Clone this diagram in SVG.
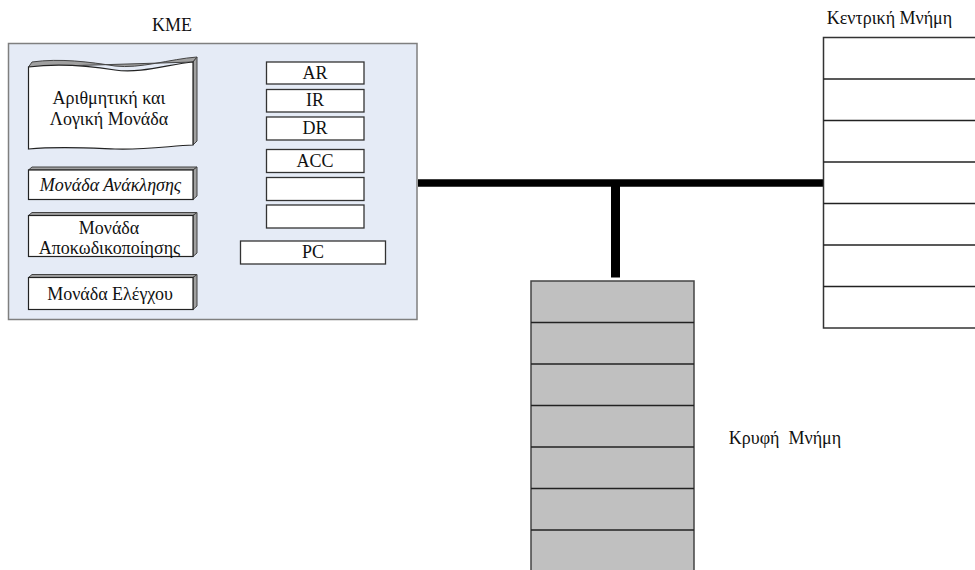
<svg xmlns="http://www.w3.org/2000/svg" width="975" height="570" viewBox="0 0 975 570">
<style>
text{font-family:'Liberation Serif','Times New Roman',serif;font-size:18px;fill:#111;text-anchor:middle}
.it{font-style:italic}
.face{fill:#fff;stroke:#222;stroke-width:1.2}
.side{fill:#a0a0a0;stroke:#444;stroke-width:1}
.reg{fill:#fff;stroke:#333;stroke-width:1.3}
.row{stroke:#222;stroke-width:1.5}
.bus{stroke:#000;fill:none}
</style>
<rect width="975" height="570" fill="#fff"/>
<g id="kme">
<rect x="8.5" y="43.5" width="408.5" height="276" fill="#e5ebf6" stroke="#7f7f7f" stroke-width="1.5"/>
<text x="172" y="31">KME</text>
</g>
<g id="alu">
<path class="side" d="M28.5,67 L32,62 C60,58 90,62 115,66 C140,69 170,59 197,57 L193,62 Z"/>
<path class="side" d="M193,62 L197,57 L197,141 L193,145 Z"/>
<path class="face" d="M28.5,67 C60,63 90,66 115,70 C140,74 170,64 193,62 L193,145 C170,146 145,150 115,149 C90,148 60,146 28.5,149 Z"/>
<text x="109" y="104">Αριθμητική και</text>
<text x="109" y="125">Λογική Μονάδα</text>
</g>
<g id="fetch">
<path class="side" d="M28.5,170 L32,167 L197,167 L193,170 Z"/>
<path class="side" d="M193,170 L197,167 L197,196 L193,199.5 Z"/>
<rect class="face" x="28.5" y="170" width="164.5" height="29.5"/>
<text class="it" x="110.5" y="191">Μονάδα Ανάκλησης</text>
</g>
<g id="decode">
<path class="side" d="M28.5,215.5 L32,212.5 L197,212.5 L193,215.5 Z"/>
<path class="side" d="M193,215.5 L197,212.5 L197,253 L193,256.5 Z"/>
<rect class="face" x="28.5" y="215.5" width="164.5" height="41"/>
<text x="109" y="234">Μονάδα</text>
<text x="109.5" y="254">Αποκωδικοποίησης</text>
</g>
<g id="control">
<path class="side" d="M28.5,277.5 L32,274.5 L197,274.5 L193,277.5 Z"/>
<path class="side" d="M193,277.5 L197,274.5 L197,306 L193,309.5 Z"/>
<rect class="face" x="28.5" y="277.5" width="164.5" height="32"/>
<text x="110" y="300">Μονάδα Ελέγχου</text>
</g>
<g id="reg-ar"><rect class="reg" x="266.5" y="62" width="97.5" height="22"/><text x="315" y="79">AR</text></g>
<g id="reg-ir"><rect class="reg" x="266.5" y="89.5" width="97.5" height="22.5"/><text x="315" y="106">IR</text></g>
<g id="reg-dr"><rect class="reg" x="266.5" y="117" width="97.5" height="23"/><text x="315" y="134">DR</text></g>
<g id="reg-acc"><rect class="reg" x="266.5" y="149.5" width="97.5" height="23"/><text x="315" y="167">ACC</text></g>
<g id="reg-5"><rect class="reg" x="266.5" y="177.5" width="97.5" height="23"/></g>
<g id="reg-6"><rect class="reg" x="266.5" y="205" width="97.5" height="23"/></g>
<g id="reg-pc"><rect class="reg" x="240.5" y="241" width="145" height="23"/><text x="313" y="258">PC</text></g>
<g id="connectors">
<line class="bus" x1="418" y1="183" x2="824" y2="183" stroke-width="7.5"/>
<line class="bus" x1="615.5" y1="183" x2="615.5" y2="277.5" stroke-width="9"/>
</g>
<g id="main-memory">
<rect x="823.5" y="37.5" width="160" height="290.5" fill="#fff" stroke="#333" stroke-width="1.5"/>
<g class="row">
<line x1="823.5" y1="79" x2="975" y2="79"/>
<line x1="823.5" y1="120.5" x2="975" y2="120.5"/>
<line x1="823.5" y1="162" x2="975" y2="162"/>
<line x1="823.5" y1="203.5" x2="975" y2="203.5"/>
<line x1="823.5" y1="245" x2="975" y2="245"/>
<line x1="823.5" y1="286.5" x2="975" y2="286.5"/>
</g>
<text x="889.5" y="24">Κεντρική Μνήμη</text>
</g>
<g id="cache">
<rect x="531" y="281" width="163" height="300" fill="#c0c0c0" stroke="#444" stroke-width="1.5"/>
<g class="row">
<line x1="531" y1="322.5" x2="694" y2="322.5"/>
<line x1="531" y1="364" x2="694" y2="364"/>
<line x1="531" y1="405.5" x2="694" y2="405.5"/>
<line x1="531" y1="447" x2="694" y2="447"/>
<line x1="531" y1="488.5" x2="694" y2="488.5"/>
<line x1="531" y1="530" x2="694" y2="530"/>
</g>
<text x="785" y="444" xml:space="preserve">Κρυφή  Μνήμη</text>
</g>
</svg>
